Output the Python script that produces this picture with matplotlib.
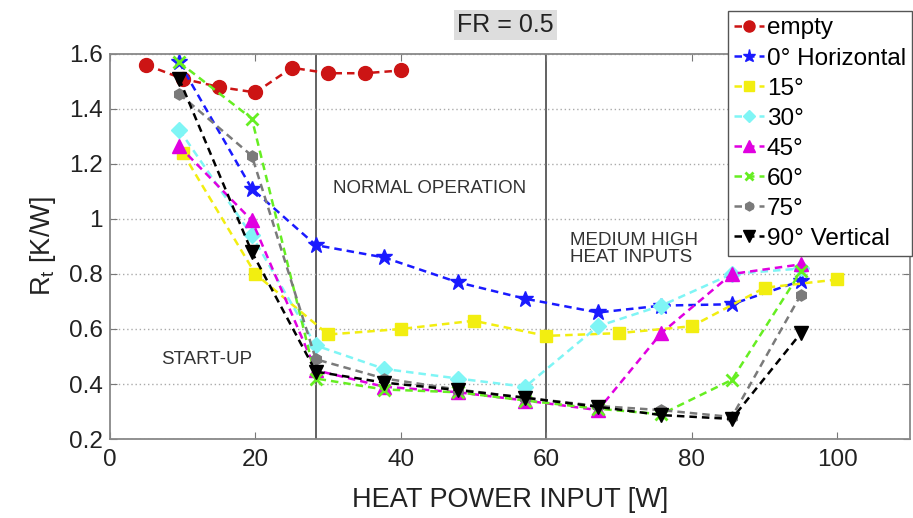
import matplotlib
matplotlib.use("Agg")
import matplotlib.pyplot as plt

plt.rcParams['font.family'] = ['Liberation Sans', 'DejaVu Sans']

# ---- data ----
x_empty = [5, 10, 15, 20, 25, 30, 35, 40]
y_empty = [1.56, 1.51, 1.48, 1.46, 1.55, 1.53, 1.53, 1.54]

x_ang = [9.5, 19.5, 28.3, 37.7, 47.8, 57.1, 67.1, 75.8, 85.5, 95]
y_0 = [1.57, 1.11, 0.905, 0.86, 0.77, 0.71, 0.66, 0.685, 0.69, 0.775]
x_15 = [10, 20, 30, 40, 50, 60, 70, 80, 90, 100]
y_15 = [1.24, 0.80, 0.58, 0.60, 0.63, 0.575, 0.585, 0.61, 0.75, 0.78]
y_30 = [1.325, 0.94, 0.54, 0.455, 0.42, 0.39, 0.61, 0.685, 0.80, 0.82]
y_45 = [1.265, 0.995, 0.45, 0.39, 0.37, 0.34, 0.305, 0.585, 0.80, 0.835]
y_60 = [1.57, 1.365, 0.42, 0.38, 0.37, 0.34, 0.31, 0.29, 0.415, 0.81]
y_75 = [1.455, 1.23, 0.49, 0.42, 0.38, 0.35, 0.32, 0.305, 0.28, 0.725]
y_90 = [1.51, 0.88, 0.445, 0.405, 0.378, 0.35, 0.317, 0.287, 0.273, 0.585]

labels = ["empty", "0° Horizontal", "15°", "30°", "45°", "60°", "75°", "90° Vertical"]

fig = plt.figure(figsize=(9.13, 5.18), dpi=100)
ax = fig.add_axes([0.1205, 0.1525, 0.8762, 0.7433])

series = [
    (x_empty, y_empty, '#cc1414', 'o', 10),
    (x_ang, y_0, '#1a1aff', '*', 12),
    (x_15, y_15, '#f2ee10', 's', 9),
    (x_ang, y_30, '#7ff5f5', 'D', 8),
    (x_ang, y_45, '#e000e0', '^', 10),
    (x_ang, y_60, '#66ee22', 'x', 8),
    (x_ang, y_75, '#7a7a7a', 'h', 8),
    (x_ang, y_90, '#000000', 'v', 10),
]
handles = []
for (xs, ys, c, m, ms), lab in zip(series, labels):
    mew = 2 if m == 'x' else 1
    h, = ax.plot(xs, ys, linestyle='--', color=c, marker=m, markersize=ms,
                 markeredgecolor=c, markerfacecolor=c, markeredgewidth=mew,
                 linewidth=1.8, label=lab, dashes=(3, 2))
    handles.append(h)

ax.axvline(28.3, color='#555555', linewidth=1.3, zorder=0)
ax.axvline(60, color='#555555', linewidth=1.3, zorder=0)

ax.set_xlim(0, 110)
ax.set_ylim(0.2, 1.6)
ax.set_xticks([0, 20, 40, 60, 80, 100])
ax.set_yticks([0.2, 0.4, 0.6, 0.8, 1.0, 1.2, 1.4, 1.6])
ax.set_yticklabels(['0.2', '0.4', '0.6', '0.8', '1', '1.2', '1.4', '1.6'])
ax.yaxis.grid(True, linestyle=(0, (1, 2)), color='#aaaaaa', linewidth=1)
ax.tick_params(direction='in', top=True, right=True, labelsize=17.5, color='#777777',
               length=5, labelcolor='#222222')
ax.tick_params(axis='x', pad=7)
ax.tick_params(axis='y', pad=5)
for s in ax.spines.values():
    s.set_color('#888888')
    s.set_linewidth(1.3)

ax.set_xlabel("HEAT POWER INPUT [W]", fontsize=19.5, color='#222222', labelpad=12)
ax.set_ylabel(r"R$_\mathregular{t}$ [K/W]", fontsize=19.5, color='#222222', labelpad=8)

ax.text(44, 1.11, "NORMAL OPERATION", fontsize=13.5, color='#333333', ha='center', va='center')
ax.text(13.3, 0.49, "START-UP", fontsize=13.5, color='#333333', ha='center', va='center')
ax.text(63.3, 0.89, "MEDIUM HIGH\nHEAT INPUTS", fontsize=13.5, color='#333333', ha='left', va='center',
        linespacing=1.0)

fig.text(0.5535, 0.951, "FR = 0.5", fontsize=18, color='#222222', ha='center', va='center',
         bbox=dict(boxstyle='square,pad=0.12', facecolor='#dddddd', edgecolor='none'))

leg = fig.legend(handles=handles, loc='upper right', bbox_to_anchor=(0.999, 0.978),
                 fontsize=17.5, handlelength=1.25, handletextpad=0.1, labelspacing=0.33,
                 borderpad=0.25, borderaxespad=0.0, fancybox=False, framealpha=1,
                 edgecolor='#555555', markerscale=0.8)
leg.get_frame().set_linewidth(1.0)

fig.savefig("out.png", dpi=100)
